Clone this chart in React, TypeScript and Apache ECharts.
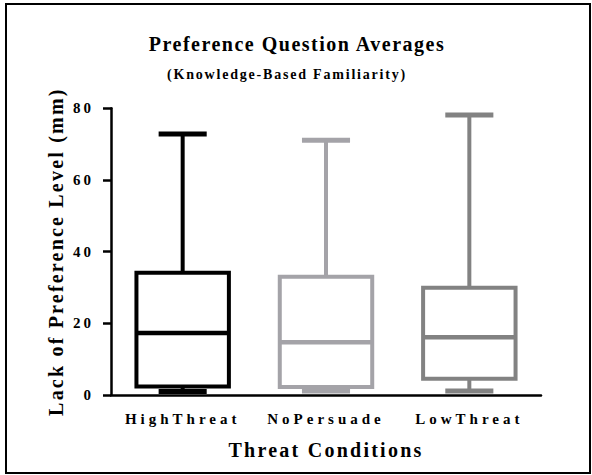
import React, { useEffect, useRef } from "react";
import * as echarts from "echarts";

const categories = ["HighThreat", "NoPersuade", "LowThreat"];
const mins = [1.0, 1.1, 1.1];
const q1s = [2.4, 2.2, 4.5];
const medians = [17.3, 14.7, 16.1];
const q3s = [34.1, 33.0, 29.9];
const maxs = [72.8, 71.1, 78.1];
const yTicks = { min: 0, max: 80, interval: 20 };
const colors = ["#000000", "#a4a3a8", "#828282"];

const TITLE = "Preference Question Averages";
const SUBTITLE = "(Knowledge-Based Familiarity)";
const X_NAME = "Threat Conditions";
const Y_NAME = "Lack of Preference Level (mm)";

const FONT = "Liberation Serif";

export default function App() {
  const ref = useRef<HTMLDivElement>(null);
  useEffect(() => {
    if (!ref.current) return;
    const el = ref.current;
    const chart = echarts.init(el, undefined, { renderer: "svg" });
    const data = categories.map((c, i) => [i, mins[i], q1s[i], medians[i], q3s[i], maxs[i]]);
    chart.setOption({
      animation: false,
      backgroundColor: "#ffffff",
      title: [
        {
          text: TITLE,
          left: 292,
          textAlign: "center",
          top: 29,
          textStyle: { fontFamily: FONT, fontWeight: "bold", fontSize: 20, color: "#000" },
        },
        {
          text: SUBTITLE,
          left: 282,
          textAlign: "center",
          top: 62,
          textStyle: { fontFamily: FONT, fontWeight: "bold", fontSize: 14, color: "#000" },
        },
      ],
      graphic: [
        {
          type: "rect",
          shape: { x: 6, y: 4, width: 584, height: 469 },
          style: { fill: "none", stroke: "#000", lineWidth: 2 },
          silent: true,
        },
      ],
      grid: { left: 111, right: 51, top: 108.3, bottom: 80 },
      xAxis: {
        type: "category",
        data: categories,
        boundaryGap: true,
        name: X_NAME,
        nameLocation: "middle",
        nameGap: 45,
        nameTextStyle: { fontFamily: FONT, fontWeight: "bold", fontSize: 20, color: "#000" },
        axisLine: { lineStyle: { color: "#000", width: 2.5 } },
        axisTick: { alignWithLabel: true, length: 7, lineStyle: { color: "#000", width: 2.5 } },
        axisLabel: { fontFamily: FONT, fontWeight: "bold", fontSize: 15, color: "#000", margin: 16 },
        splitLine: { show: false },
      },
      yAxis: {
        type: "value",
        min: yTicks.min,
        max: yTicks.max,
        interval: yTicks.interval,
        name: Y_NAME,
        nameLocation: "middle",
        nameGap: 45,
        nameTextStyle: { fontFamily: FONT, fontWeight: "bold", fontSize: 20, color: "#000" },
        axisLine: { show: true, lineStyle: { color: "#000", width: 2.5 } },
        axisTick: { show: true, length: 8, lineStyle: { color: "#000", width: 2.5 } },
        axisLabel: { fontFamily: FONT, fontWeight: "bold", fontSize: 15, color: "#000", margin: 17 },
        splitLine: { show: false },
      },
      series: [
        {
          type: "custom",
          data,
          encode: { x: 0, y: [1, 2, 3, 4, 5] },
          renderItem: (params: any, api: any) => {
            const xi = api.value(0);
            const pMin = api.coord([xi, api.value(1)]);
            const pQ1 = api.coord([xi, api.value(2)]);
            const pMed = api.coord([xi, api.value(3)]);
            const pQ3 = api.coord([xi, api.value(4)]);
            const pMax = api.coord([xi, api.value(5)]);
            const band = api.size([1, 0])[0];
            const bw = band * 0.645;
            const cw = bw * 0.52;
            const cx = pMed[0];
            const stroke = colors[params.dataIndex];
            return {
              type: "group",
              children: [
                { type: "line", shape: { x1: cx, y1: pQ3[1], x2: cx, y2: pMax[1] }, style: { stroke, lineWidth: 4 } },
                { type: "line", shape: { x1: cx - cw / 2, y1: pMax[1], x2: cx + cw / 2, y2: pMax[1] }, style: { stroke, lineWidth: 5 } },
                { type: "line", shape: { x1: cx, y1: pQ1[1], x2: cx, y2: pMin[1] }, style: { stroke, lineWidth: 4 } },
                { type: "line", shape: { x1: cx - cw / 2, y1: pMin[1], x2: cx + cw / 2, y2: pMin[1] }, style: { stroke, lineWidth: 5 } },
                { type: "rect", shape: { x: cx - bw / 2, y: pQ3[1], width: bw, height: pQ1[1] - pQ3[1] }, style: { fill: "#fff", stroke, lineWidth: 4 } },
                { type: "line", shape: { x1: cx - bw / 2, y1: pMed[1], x2: cx + bw / 2, y2: pMed[1] }, style: { stroke, lineWidth: 4.5 } },
              ],
            };
          },
        },
      ],
    });

    const spacing = (t: string): number | null => {
      if (t === TITLE) return 1.5;
      if (t === SUBTITLE) return 1.8;
      if (t === X_NAME) return 2.25;
      if (t === Y_NAME) return 2.2;
      if (categories.indexOf(t) >= 0) return 4;
      if (/^\d+$/.test(t)) return 3;
      return null;
    };
    const applySpacing = () => {
      el.querySelectorAll("text").forEach((node) => {
        const s = spacing((node.textContent || "").trim());
        if (s !== null) node.setAttribute("letter-spacing", String(s));
      });
    };
    applySpacing();
    chart.on("finished", applySpacing);
    const raf = requestAnimationFrame(applySpacing);
    return () => {
      cancelAnimationFrame(raf);
      chart.dispose();
    };
  }, []);
  return (
    <div
      ref={ref}
      style={{ position: "fixed", left: 0, top: 0, width: 592, height: 475, background: "#fff" }}
    />
  );
}
